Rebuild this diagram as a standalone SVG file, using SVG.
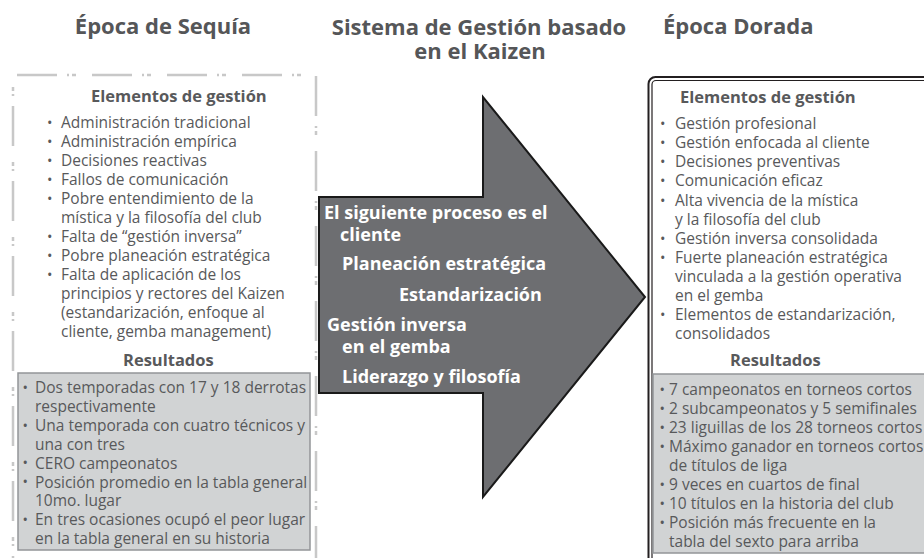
<svg xmlns="http://www.w3.org/2000/svg" width="924" height="558" viewBox="0 0 924 558">
<style>
.t{font-family:"Open Sans","Noto Sans","DejaVu Sans",sans-serif;font-size:15.5px;fill:#58595b}
.hd{font-family:"Open Sans","Noto Sans","DejaVu Sans",sans-serif;font-size:16.5px;font-weight:bold;fill:#58595b}
.bu{font-family:"Open Sans","Noto Sans","DejaVu Sans",sans-serif;font-size:14.5px;fill:#58595b}
.title{font-family:"Open Sans","Noto Sans","DejaVu Sans",sans-serif;font-size:22px;font-weight:bold;fill:#555658}
.w{font-family:"Open Sans","Noto Sans","DejaVu Sans",sans-serif;font-size:18px;font-weight:bold;fill:#ffffff}
.res{fill:#d1d3d4;stroke:#939598;stroke-width:1.5}
.dash{fill:none;stroke:#c8c8c8;stroke-width:2.5;stroke-dasharray:40 10 2 3 4 16;stroke-dashoffset:21}
</style>
<rect width="924" height="558" fill="#ffffff"/>

<g id="titles">
<text class="title" x="163" y="34" text-anchor="middle">Época de Sequía</text>
<text class="title" x="479" y="35" text-anchor="middle">Sistema de Gestión basado</text>
<text class="title" x="480" y="59" text-anchor="middle">en el Kaizen</text>
<text class="title" x="663" y="34">Época Dorada</text>
</g>

<g id="epoca-sequia">
<path class="dash" d="M13,575 L13,75 L316,75 L316,575"/>
<text class="hd" x="91" y="102">Elementos de gestión</text>
<g class="bu">
<text x="47" y="127.5">•</text><text x="47" y="146.5">•</text><text x="47" y="165.5">•</text><text x="47" y="184.5">•</text>
<text x="47" y="203.5">•</text><text x="47" y="241.5">•</text><text x="47" y="260.5">•</text><text x="47" y="279.5">•</text>
</g>
<g class="t">
<text x="61" y="128">Administración tradicional</text>
<text x="61" y="147">Administración empírica</text>
<text x="61" y="166">Decisiones reactivas</text>
<text x="61" y="185">Fallos de comunicación</text>
<text x="61" y="204">Pobre entendimiento de la</text>
<text x="61" y="223">mística y la filosofía del club</text>
<text x="61" y="242">Falta de “gestión inversa”</text>
<text x="61" y="261">Pobre planeación estratégica</text>
<text x="61" y="280">Falta de aplicación de los</text>
<text x="61" y="299">principios y rectores del Kaizen</text>
<text x="61" y="318">(estandarización, enfoque al</text>
<text x="61" y="337">cliente, gemba management)</text>
</g>
<text class="hd" x="123" y="366">Resultados</text>
<rect class="res" x="18" y="373" width="292" height="177"/>
<g class="bu">
<text x="22.5" y="392.5">•</text><text x="22.5" y="430.5">•</text><text x="22.5" y="468">•</text>
<text x="22.5" y="487">•</text><text x="22.5" y="524.5">•</text>
</g>
<g class="t">
<text x="35" y="393">Dos temporadas con 17 y 18 derrotas</text>
<text x="35" y="412">respectivamente</text>
<text x="35" y="431">Una temporada con cuatro técnicos y</text>
<text x="35" y="449.5">una con tres</text>
<text x="35" y="468.5">CERO campeonatos</text>
<text x="35" y="487.5">Posición promedio en la tabla general</text>
<text x="35" y="506">10mo. lugar</text>
<text x="35" y="525">En tres ocasiones ocupó el peor lugar</text>
<text x="35" y="544">en la tabla general en su historia</text>
</g>
</g>

<g id="sistema-kaizen">
<polygon points="319,197 483,197 483,97 645,297 483,497 483,393 319,393" fill="#6d6e71" stroke="#1a1a1a" stroke-width="2" stroke-linejoin="miter"/>
<text class="w" x="324" y="219">El siguiente proceso es el</text>
<text class="w" x="340" y="241">cliente</text>
<text class="w" x="342" y="270">Planeación estratégica</text>
<text class="w" x="399" y="301">Estandarización</text>
<text class="w" x="327" y="331">Gestión inversa</text>
<text class="w" x="342" y="353">en el gemba</text>
<text class="w" x="342" y="383">Liderazgo y filosofía</text>
</g>

<g id="epoca-dorada">
<rect x="648.5" y="77" width="320" height="520" rx="7" fill="#ffffff" stroke="#231f20" stroke-width="2"/>
<rect x="652" y="80.5" width="320" height="520" rx="4" fill="none" stroke="#231f20" stroke-width="1.2"/>
<text class="hd" x="680" y="103">Elementos de gestión</text>
<g class="bu">
<text x="660" y="128.5">•</text><text x="660" y="147.5">•</text><text x="660" y="166.5">•</text><text x="660" y="185.5">•</text>
<text x="660" y="205.5">•</text><text x="660" y="243.5">•</text><text x="660" y="262.5">•</text><text x="660" y="319.5">•</text>
</g>
<g class="t">
<text x="675" y="129">Gestión profesional</text>
<text x="675" y="148">Gestión enfocada al cliente</text>
<text x="675" y="167">Decisiones preventivas</text>
<text x="675" y="186">Comunicación eficaz</text>
<text x="675" y="206">Alta vivencia de la mística</text>
<text x="675" y="225">y la filosofía del club</text>
<text x="675" y="244">Gestión inversa consolidada</text>
<text x="675" y="263">Fuerte planeación estratégica</text>
<text x="675" y="282">vinculada a la gestión operativa</text>
<text x="675" y="301">en el gemba</text>
<text x="675" y="320">Elementos de estandarización,</text>
<text x="675" y="339">consolidados</text>
</g>
<text class="hd" x="730" y="366">Resultados</text>
<rect class="res" x="653" y="374" width="300" height="179"/>
<g class="bu">
<text x="659.5" y="394.5">•</text><text x="659.5" y="413.5">•</text><text x="659.5" y="432.5">•</text><text x="659.5" y="451.5">•</text>
<text x="659.5" y="489.5">•</text><text x="659.5" y="508.5">•</text><text x="659.5" y="527.5">•</text>
</g>
<g class="t">
<text x="669" y="395">7 campeonatos en torneos cortos</text>
<text x="669" y="414">2 subcampeonatos y 5 semifinales</text>
<text x="669" y="433">23 liguillas de los 28 torneos cortos</text>
<text x="669" y="452">Máximo ganador en torneos cortos</text>
<text x="669" y="471">de títulos de liga</text>
<text x="669" y="490">9 veces en cuartos de final</text>
<text x="669" y="509">10 títulos en la historia del club</text>
<text x="669" y="528">Posición más frecuente en la</text>
<text x="669" y="547">tabla del sexto para arriba</text>
</g>
</g>

<g id="connectors"></g>
</svg>
